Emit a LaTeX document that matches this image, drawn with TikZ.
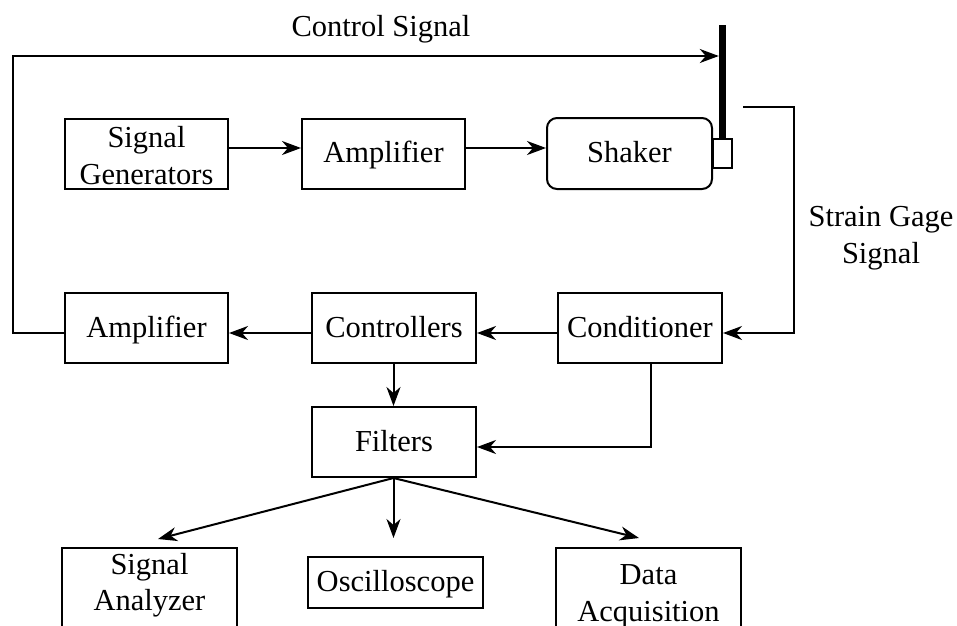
\documentclass[tikz,border=0pt]{standalone}
\usepackage{fontspec}
\setmainfont{Liberation Serif}
\usetikzlibrary{arrows.meta}
\tikzset{
  lbl/.style={font=\fontsize{30.5}{36.5}\selectfont, align=center},
  blk/.style={lbl, draw, line width=2pt, minimum width=163pt, minimum height=70pt, inner sep=0pt},
  one/.style={text height=21pt, text depth=3pt},
  conn/.style={line width=2pt, -{Stealth[length=19pt,width=14pt,inset=6pt]}},
  wire/.style={line width=2pt}
}
\begin{document}
\begin{tikzpicture}[x=1pt,y=-1pt]
\useasboundingbox (0,0) rectangle (957,625);
\clip (0,0) rectangle (957,625);
% top row
\node[blk] (siggen) at (146.5,153.5) {\rule{0pt}{25pt}Signal\\Generators};
\node[blk, one] (amp1) at (383.5,153.5) {Amplifier};
\node[blk, one, minimum width=165pt, minimum height=71pt, rounded corners=10pt] (shaker) at (629.5,153.5) {Shaker};
\node[fill=black, inner sep=0pt, minimum width=7pt, minimum height=114pt] (beam) at (722.5,82) {};
\node[draw, fill=white, line width=1.6pt, inner sep=0pt, minimum width=19pt, minimum height=29pt] (gauge) at (722.5,153.5) {};
% middle row
\node[blk, one] (amp2) at (146.5,328) {Amplifier};
\node[blk, one, minimum width=164pt] (ctrl) at (394,328) {Controllers};
\node[blk, one, minimum width=164pt] (cond) at (640,328) {Conditioner};
\node[blk, one, minimum width=164pt] (filt) at (394,442) {Filters};
% bottom row
\node[blk, anchor=north, minimum width=175pt, minimum height=10pt, inner ysep=5pt] (sa) at (149.5,547) {Signal\\Analyzer\rule[-40pt]{0pt}{0pt}};
\node[blk, one, minimum width=175pt, minimum height=51pt] (osc) at (395.5,582.5) {Oscilloscope};
\node[blk, anchor=north, minimum width=185pt, minimum height=10pt, inner ysep=17pt] (da) at (648.5,547) {Data\\Acquisition\rule[-40pt]{0pt}{0pt}};
% labels
\node[lbl, anchor=base] (ctlbl) at (381,36) {Control Signal};
\node[lbl] (sglbl) at (881,238) {Strain Gage\\Signal};
% coordinates
\coordinate (cL) at (13,56);
\coordinate (sg) at (743,107);
\coordinate (sgR) at (794,107);
\coordinate (tA) at (158,539);
\coordinate (tO) at (393.5,538);
\coordinate (tD) at (639,538);
% connectors
\draw[conn] ([yshift=5.5pt]siggen.east) -- ([yshift=5.5pt]amp1.west);
\draw[conn] ([yshift=5.5pt]amp1.east) -- ([yshift=5.5pt]shaker.west);
\draw[conn] ([yshift=-5pt]amp2.west) -| (cL) -- (beam.west |- cL);
\draw[conn] (sg) -- (sgR) |- ([yshift=-5pt]cond.east);
\draw[conn] ([yshift=-5pt]cond.west) -- ([yshift=-5pt]ctrl.east);
\draw[conn] ([yshift=-5pt]ctrl.west) -- ([yshift=-5pt]amp2.east);
\draw[conn] ([xshift=-0.5pt]ctrl.south) -- ([xshift=-0.5pt]filt.north);
\draw[conn] ([xshift=11pt]cond.south) |- ([yshift=-5pt]filt.east);
\draw[conn] ([xshift=-0.5pt]filt.south) -- (tA);
\draw[conn] ([xshift=-0.5pt]filt.south) -- (tO);
\draw[conn] ([xshift=-0.5pt]filt.south) -- (tD);
\end{tikzpicture}
\end{document}
